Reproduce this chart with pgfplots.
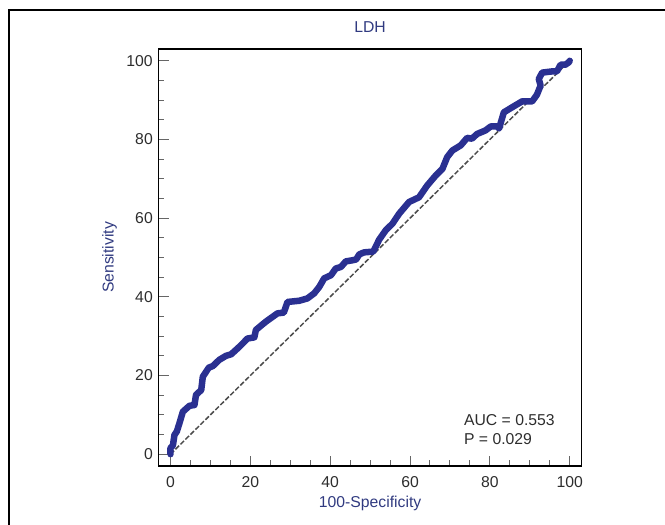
\documentclass[border=0pt]{standalone}
\usepackage{pgfplots}
\pgfplotsset{compat=1.18}
\usepackage{fontspec}
\setmainfont{Liberation Sans}
\definecolor{roc}{RGB}{42,48,145}
\definecolor{lab}{RGB}{48,58,128}
\definecolor{tk}{RGB}{45,45,45}
\begin{document}
\fontsize{15.8}{19}\selectfont
\begin{tikzpicture}[x=1bp,y=1bp]
\useasboundingbox (0,0) rectangle (665,525);
\draw[line width=2.2bp] (9,0) -- (9,515) -- (665,515);
\begin{axis}[
  at={(158.5bp,59bp)}, anchor=south west,
  width=423.2bp, height=417bp, scale only axis,
  xmin=-3, xmax=103, ymin=-3, ymax=103,
  xtick={0,20,40,60,80,100}, ytick={0,20,40,60,80,100},
  minor tick num=3,
  tick align=inside,
  xtick pos=bottom, ytick pos=left,
  major tick length=10bp, minor tick length=5.5bp,
  tick style={line width=1bp, color=black!60},
  axis line style={line width=1.4bp},
  /pgf/number format/assume math mode=true,
  ticklabel style={font=\fontsize{15.8}{19}\selectfont, text=tk},
  xticklabel style={yshift=-5bp},
  yticklabel style={xshift=-0.3bp},
  title={LDH},
  title style={at={([yshift=10.7bp]axis description cs:0.5,1)}, anchor=base, text=lab, font=\fontsize{15.8}{19}\selectfont},
  xlabel={100-Specificity},
  xlabel style={at={([yshift=-42bp]axis description cs:0.5,0)}, anchor=base, text=lab, font=\fontsize{15.8}{19}\selectfont},
  ylabel={Sensitivity},
  ylabel style={at={([xshift=-45bp]axis description cs:0,0.5)}, anchor=base, text=lab, font=\fontsize{15.8}{19}\selectfont},
  clip=false,
]
\addplot[line width=1.5bp, color=black!70, dash pattern=on 5bp off 2bp] coordinates {(0,0) (100,100)};
\addplot[line width=6.5bp, color=roc, line join=round, line cap=round] coordinates {
(0,0) (0,1.6) (0.6,2.2) (1.0,4.9) (1.6,5.8) (2.25,7.9) (3.1,10.8) (4.75,12.3)
(6.0,12.5) (6.4,15.1) (7.7,16.3) (8.1,19.7) (9.6,22.0) (10.6,22.4) (12.25,24.0)
(13.9,25.0) (15.2,25.4) (17.25,27.3) (19.3,29.4) (21.0,29.7) (21.4,31.6)
(23.9,33.7) (26.8,35.8) (28.4,36.0) (29.3,38.7) (32.25,39.0) (34.3,39.6)
(36.0,40.9) (37.25,42.5) (38.5,44.7) (40.2,45.5) (41.4,47.2) (42.7,47.6)
(43.9,49.0) (45.6,49.3) (46.5,49.5) (47.3,50.8) (48.5,51.3) (50.8,51.5)
(52.25,54.5) (53.9,56.9) (55.6,58.6) (57.25,61.1) (59.75,64.1) (62.25,65.3)
(64.3,68.3) (66.4,70.8) (68.1,72.5) (69.3,75.5) (70.6,77.2) (72.7,78.5)
(74.3,80.4) (75.5,80.2) (76.8,81.4) (78.9,82.3) (80.2,83.3) (81.8,83.3)
(82.3,82.8) (83.5,86.9) (85.6,88.2) (88.1,89.7) (90.6,89.7) (91.8,91.4)
(92.7,93.7) (92.25,95.4) (93.1,97.0) (95.6,97.3) (96.8,97.3) (97.7,99.0)
(98.9,99.0) (99.75,99.6) (100,100)};
\node[anchor=base west, inner sep=0pt, text=tk] at (axis cs:73.5,7.2) {AUC = 0.553};
\node[anchor=base west, inner sep=0pt, text=tk] at (axis cs:73.5,2.4) {P = 0.029};
\end{axis}
\end{tikzpicture}
\end{document}
